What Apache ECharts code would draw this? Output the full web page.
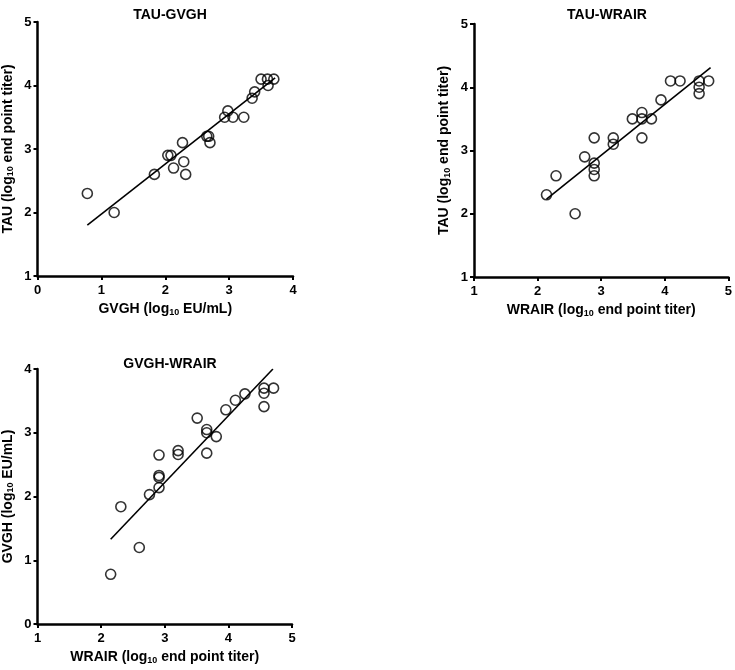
<!DOCTYPE html>
<html>
<head>
<meta charset="utf-8">
<script src="https://cdn.jsdelivr.net/npm/echarts@6/dist/echarts.min.js"></script>
<style>
  html, body { margin: 0; padding: 0; background: #fff; }
  #chart { width: 735px; height: 670px; }
</style>
</head>
<body>
<div id="chart"></div>
<script>
// panel 1: TAU vs GVGH
var gvgh_x1 = [0.78, 1.2, 1.83, 2.04, 2.09, 2.13, 2.27, 2.29, 2.32, 2.65, 2.68, 2.70, 2.93, 2.98, 3.06, 3.23, 3.36, 3.40, 3.50, 3.60, 3.61, 3.70];
var tau_y1 = [2.3, 2.0, 2.6, 2.9, 2.9, 2.7, 3.1, 2.8, 2.6, 3.2, 3.2, 3.1, 3.5, 3.6, 3.5, 3.5, 3.8, 3.9, 4.1, 4.1, 4.0, 4.1];
var fit1 = [[0.78, 1.80], [3.72, 4.12]];

// panel 2: TAU vs WRAIR
var wrair_x2 = [2.14, 2.29, 2.59, 2.74, 2.89, 2.89, 2.89, 2.89, 3.19, 3.19, 3.49, 3.64, 3.64, 3.64, 3.79, 3.94, 4.09, 4.24, 4.54, 4.54, 4.54, 4.69];
var tau_y2 = [2.3, 2.6, 2.0, 2.9, 3.2, 2.8, 2.7, 2.6, 3.2, 3.1, 3.5, 3.6, 3.5, 3.2, 3.5, 3.8, 4.1, 4.1, 4.1, 4.0, 3.9, 4.1];
var fit2 = [[2.14, 2.23], [4.72, 4.31]];

// panel 3: GVGH vs WRAIR
var wrair_x3 = [2.15, 2.31, 2.60, 2.76, 2.91, 2.91, 2.91, 2.91, 3.21, 3.21, 3.51, 3.66, 3.66, 3.66, 3.81, 3.96, 4.11, 4.26, 4.56, 4.56, 4.56, 4.71];
var gvgh_y3 = [0.78, 1.84, 1.20, 2.03, 2.14, 2.30, 2.33, 2.65, 2.66, 2.72, 3.23, 3.05, 3.00, 2.68, 2.94, 3.36, 3.51, 3.61, 3.70, 3.62, 3.41, 3.70];
var fit3 = [[2.15, 1.33], [4.70, 4.00]];

var titles = ['TAU-GVGH', 'TAU-WRAIR', 'GVGH-WRAIR'];
var xNames = ['GVGH (log{s|10} EU/mL)', 'WRAIR (log{s|10} end point titer)', 'WRAIR (log{s|10} end point titer)'];
var yNames = ['TAU (log{s|10} end point titer)', 'TAU (log{s|10} end point titer)', 'GVGH (log{s|10} EU/mL)'];

var font = 'Liberation Sans';

function zip(a, b) {
  var out = [];
  for (var i = 0; i < a.length; i++) out.push([a[i], b[i]]);
  return out;
}

var nameStyle = {
  fontFamily: font, fontWeight: 'bold', fontSize: 14, color: '#000',
  rich: { s: { fontFamily: font, fontWeight: 'bold', fontSize: 9, color: '#000', padding: [6, 0, 0, 0] } }
};

function xAxis(idx, min, max, name) {
  return {
    type: 'value', gridIndex: idx, min: min, max: max, interval: 1,
    name: name, nameLocation: 'middle', nameGap: 26, nameTextStyle: nameStyle,
    splitLine: { show: false },
    axisLine: { lineStyle: { color: '#000', width: 2.5 } },
    axisTick: { length: 4, lineStyle: { color: '#000', width: 2 } },
    axisLabel: { color: '#000', fontFamily: font, fontWeight: 'bold', fontSize: 13, margin: 8 }
  };
}

function yAxis(idx, min, max, name) {
  return {
    type: 'value', gridIndex: idx, min: min, max: max, interval: 1,
    name: name, nameLocation: 'middle', nameGap: 22, nameTextStyle: nameStyle,
    splitLine: { show: false },
    axisLine: { show: true, lineStyle: { color: '#000', width: 2.5 } },
    axisTick: { show: true, length: 4, lineStyle: { color: '#000', width: 2 } },
    axisLabel: { color: '#000', fontFamily: font, fontWeight: 'bold', fontSize: 13, margin: 6 }
  };
}

function pts(idx, data) {
  return {
    type: 'scatter', xAxisIndex: idx, yAxisIndex: idx, data: data,
    symbol: 'circle', symbolSize: 10,
    itemStyle: { color: 'rgba(0,0,0,0)', borderColor: '#000', borderWidth: 1.6 }
  };
}

function fit(idx, data) {
  return {
    type: 'line', xAxisIndex: idx, yAxisIndex: idx, data: data,
    showSymbol: false, symbol: 'none',
    lineStyle: { color: '#000', width: 1.6 }
  };
}

var chart = echarts.init(document.getElementById('chart'));
var option = {
  backgroundColor: '#fff',
  animation: false,
  title: [
    { text: titles[0], left: 165, top: 3, textAlign: 'center' },
    { text: titles[1], left: 602, top: 3, textAlign: 'center' },
    { text: titles[2], left: 165, top: 352, textAlign: 'center' }
  ].map(function (t) {
    t.textStyle = { fontFamily: font, fontWeight: 'bold', fontSize: 14, color: '#000' };
    return t;
  }),
  grid: [
    { left: 37, top: 22, width: 256, height: 254 },
    { left: 474, top: 24, width: 255, height: 253 },
    { left: 37, top: 369, width: 255, height: 255 }
  ],
  xAxis: [xAxis(0, 0, 4, xNames[0]), xAxis(1, 1, 5, xNames[1]), xAxis(2, 1, 5, xNames[2])],
  yAxis: [yAxis(0, 1, 5, yNames[0]), yAxis(1, 1, 5, yNames[1]), yAxis(2, 0, 4, yNames[2])],
  series: [
    pts(0, zip(gvgh_x1, tau_y1)), fit(0, fit1),
    pts(1, zip(wrair_x2, tau_y2)), fit(1, fit2),
    pts(2, zip(wrair_x3, gvgh_y3)), fit(2, fit3)
  ]
};
chart.setOption(option);
</script>
</body>
</html>
